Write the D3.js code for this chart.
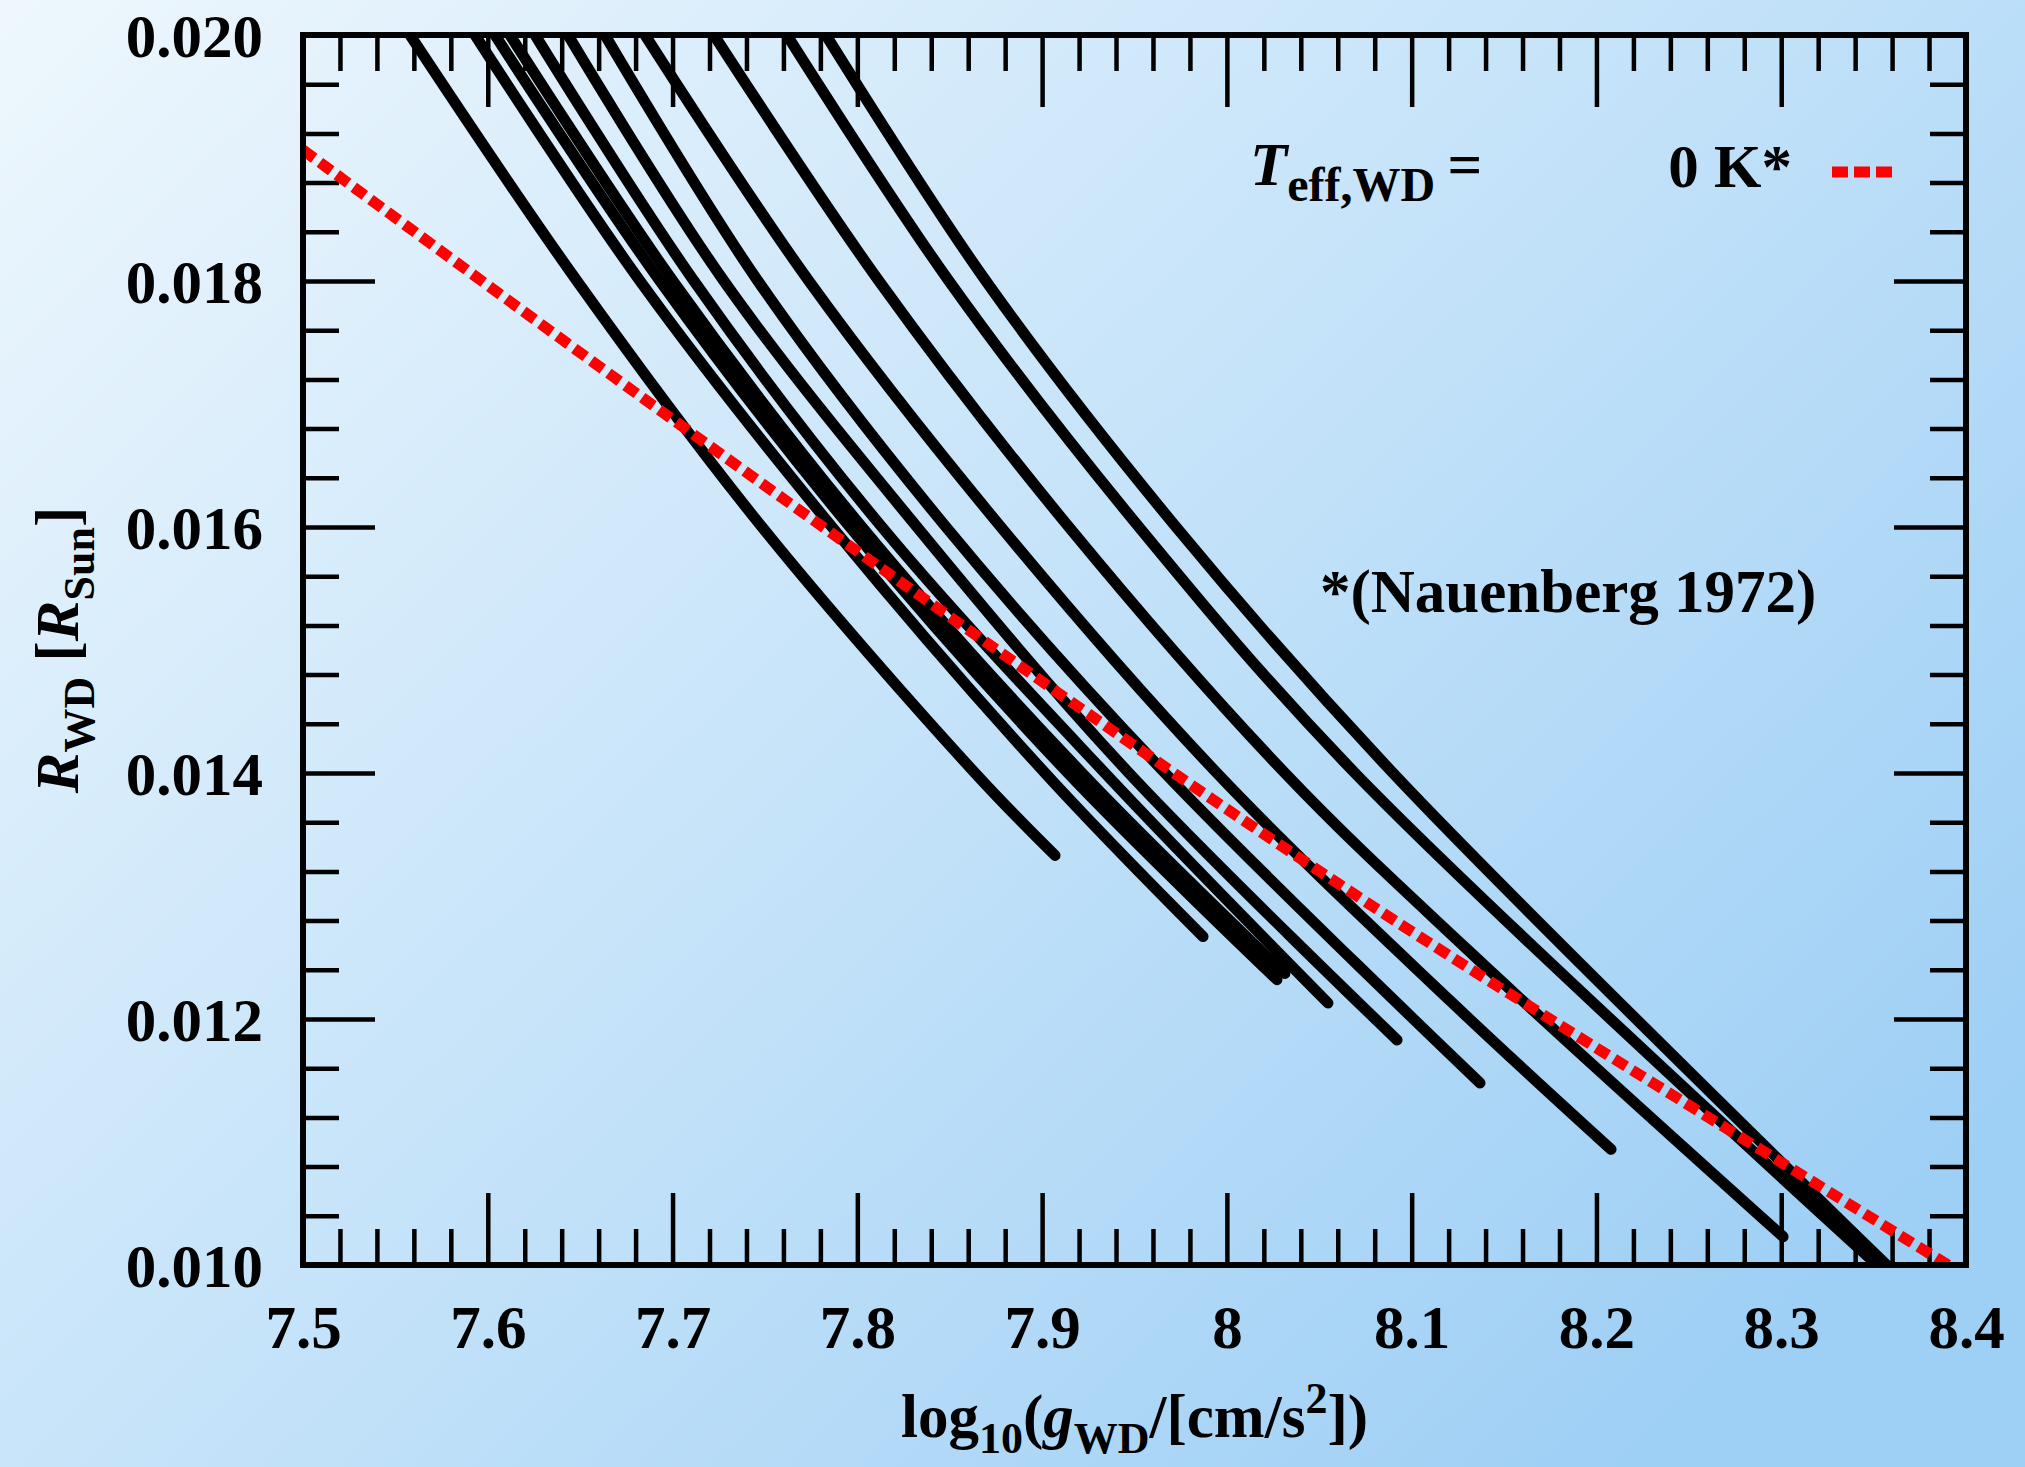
<!DOCTYPE html>
<html>
<head>
<meta charset="utf-8">
<script src="https://cdn.jsdelivr.net/npm/d3@7"></script>
<style>
html,body{margin:0;padding:0;background:#c6e3f9;}
body{width:2025px;height:1467px;overflow:hidden;}
svg{display:block;font-family:"Liberation Serif","Times New Roman",serif;font-weight:bold;}
</style>
</head>
<body>
<svg id="chart" width="2025" height="1467"></svg>
<script>
// ---------------- data ----------------
const xTickValues = [7.5, 7.6, 7.7, 7.8, 7.9, 8.0, 8.1, 8.2, 8.3, 8.4];
const xTickLabels = ["7.5", "7.6", "7.7", "7.8", "7.9", "8", "8.1", "8.2", "8.3", "8.4"];
const yTickValues = [0.010, 0.012, 0.014, 0.016, 0.018, 0.020];
const yTickLabels = ["0.010", "0.012", "0.014", "0.016", "0.018", "0.020"];

// black tracks: [log g, R_WD]
const track1  = [[7.5579,0.020],[7.6483,0.018],[7.7484,0.016],[7.8637,0.014],[7.9070,0.01333]];
const track2  = [[7.5931,0.020],[7.6824,0.018],[7.7863,0.016],[7.9016,0.014],[7.9871,0.01267]];
const track3  = [[7.6039,0.020],[7.6932,0.018],[7.7960,0.016],[7.9140,0.014],[8.0271,0.01232]];
const track4  = [[7.6120,0.020],[7.7002,0.018],[7.8025,0.016],[7.9216,0.014],[8.0314,0.01237]];
const track5  = [[7.6256,0.020],[7.7116,0.018],[7.8133,0.016],[7.9340,0.014],[8.0547,0.01213]];
const track6  = [[7.6434,0.020],[7.7278,0.018],[7.8323,0.016],[7.9470,0.014],[8.0921,0.01183]];
const track7  = [[7.6634,0.020],[7.7462,0.018],[7.8480,0.016],[7.9665,0.014],[8.1370,0.01148]];
const track8  = [[7.6851,0.020],[7.7738,0.018],[7.8777,0.016],[7.9946,0.014],[8.1207,0.01215],[8.2079,0.01094]];
const track9  = [[7.7224,0.020],[7.8117,0.018],[7.9145,0.016],[8.0314,0.014],[8.1305,0.01256],[8.3010,0.01023]];
const track10 = [[7.7619,0.020],[7.8496,0.018],[7.9524,0.016],[8.0693,0.014],[8.3520,0.010]];
const track11 = [[7.7830,0.020],[7.8696,0.018],[7.9725,0.016],[8.0899,0.014],[8.3570,0.010]];
const blackTracks = [track1, track2, track3, track4, track5, track6, track7, track8, track9, track10, track11];

// 0 K relation (Nauenberg 1972), red dashed
const nauenberg = [[7.5,0.019065],[7.6824,0.017065],[7.8756,0.015000],[8.0087,0.013618],[8.1207,0.012512],[8.3903,0.010]];

// ---------------- layout ----------------
const W = 2025, H = 1467;
const L = 303, R = 1966, T = 35, B = 1265;
const FONT = 61;
const SUB = 44;

const svg = d3.select("#chart");
const defs = svg.append("defs");
const grad = defs.append("linearGradient").attr("id","bg")
  .attr("x1","0").attr("y1","0").attr("x2","1").attr("y2","0.75");
grad.append("stop").attr("offset","0%").attr("stop-color","#eef7fd");
grad.append("stop").attr("offset","55%").attr("stop-color","#c3e2f9");
grad.append("stop").attr("offset","100%").attr("stop-color","#9ecff5");
svg.append("rect").attr("width",W).attr("height",H).attr("fill","url(#bg)");

defs.append("clipPath").attr("id","plotclip")
  .append("rect").attr("x",L).attr("y",T).attr("width",R-L).attr("height",B-T);

const x = d3.scaleLinear().domain([7.5, 8.4]).range([L, R]);
const y = d3.scaleLinear().domain([0.010, 0.020]).range([B, T]);

const xMinor = d3.range(0, 46).map(i => 7.5 + i*0.02).filter(v => !xTickValues.some(t => Math.abs(t-v) < 1e-6));
const yMinor = d3.range(0, 26).map(i => 0.010 + i*0.0004).filter(v => !yTickValues.some(t => Math.abs(t-v) < 1e-9));

const MAJ = 72, MIN = 36, TW = 4.5;

function styleAxis(g){
  g.select(".domain").remove();
  g.selectAll(".tick line").attr("stroke","#000").attr("stroke-width",TW);
  g.selectAll(".tick text").attr("fill","#000").attr("font-size",FONT)
    .attr("font-family",'"Liberation Serif","Times New Roman",serif').attr("font-weight","bold");
}

// bottom major with labels
svg.append("g").attr("transform",`translate(0,${B})`)
  .call(d3.axisBottom(x).tickValues(xTickValues).tickSize(-MAJ).tickPadding(40)
    .tickFormat((d,i) => xTickLabels[i]))
  .call(styleAxis);
svg.append("g").attr("transform",`translate(0,${B})`)
  .call(d3.axisBottom(x).tickValues(xMinor).tickSize(-MIN).tickFormat(""))
  .call(styleAxis);
// top
svg.append("g").attr("transform",`translate(0,${T})`)
  .call(d3.axisTop(x).tickValues(xTickValues).tickSize(-MAJ).tickFormat(""))
  .call(styleAxis);
svg.append("g").attr("transform",`translate(0,${T})`)
  .call(d3.axisTop(x).tickValues(xMinor).tickSize(-MIN).tickFormat(""))
  .call(styleAxis);
// left
svg.append("g").attr("transform",`translate(${L},0)`)
  .call(d3.axisLeft(y).tickValues(yTickValues).tickSize(-MAJ).tickPadding(40)
    .tickFormat((d,i) => yTickLabels[i]))
  .call(styleAxis)
  .call(g => g.selectAll(".tick text").attr("dy","0.36em"));
svg.append("g").attr("transform",`translate(${L},0)`)
  .call(d3.axisLeft(y).tickValues(yMinor).tickSize(-MIN).tickFormat(""))
  .call(styleAxis);
// right
svg.append("g").attr("transform",`translate(${R},0)`)
  .call(d3.axisRight(y).tickValues(yTickValues).tickSize(-MAJ).tickFormat(""))
  .call(styleAxis);
svg.append("g").attr("transform",`translate(${R},0)`)
  .call(d3.axisRight(y).tickValues(yMinor).tickSize(-MIN).tickFormat(""))
  .call(styleAxis);

// curves
const line = d3.line().x(d => x(d[0])).y(d => y(d[1])).curve(d3.curveCatmullRom.alpha(0.5));
const plot = svg.append("g").attr("clip-path","url(#plotclip)");
plot.selectAll("path.wd").data(blackTracks).join("path").attr("class","wd")
  .attr("d", line).attr("fill","none").attr("stroke","#000")
  .attr("stroke-width",11).attr("stroke-linecap","round").attr("stroke-linejoin","round");
plot.append("path").datum(nauenberg).attr("d", line).attr("fill","none")
  .attr("stroke","#ff0000").attr("stroke-width",11).attr("stroke-dasharray","14,7");

// frame
svg.append("rect").attr("x",L).attr("y",T).attr("width",R-L).attr("height",B-T)
  .attr("fill","none").attr("stroke","#000").attr("stroke-width",6);

// x title
const xt = svg.append("text").attr("x",(L+R)/2).attr("y",1437).attr("text-anchor","middle")
  .attr("font-size",FONT).attr("fill","#000");
xt.append("tspan").text("log");
xt.append("tspan").attr("font-size",SUB).attr("dy",16).text("10");
xt.append("tspan").attr("dy",-16).text("(");
xt.append("tspan").attr("font-style","italic").text("g");
xt.append("tspan").attr("font-size",SUB).attr("dy",16).text("WD");
xt.append("tspan").attr("dy",-16).text("/[cm/s");
xt.append("tspan").attr("font-size",SUB).attr("dy",-24).text("2");
xt.append("tspan").attr("dy",24).text("])");

// y title
const yt = svg.append("text").attr("transform",`translate(78,${(T+B)/2}) rotate(-90)`)
  .attr("text-anchor","middle").attr("font-size",FONT).attr("fill","#000");
yt.append("tspan").attr("font-style","italic").text("R");
yt.append("tspan").attr("font-size",SUB).attr("dy",16).text("WD");
yt.append("tspan").attr("dy",-16).text(" [");
yt.append("tspan").attr("font-style","italic").text("R");
yt.append("tspan").attr("font-size",SUB).attr("dy",16).text("Sun");
yt.append("tspan").attr("dy",-16).text("]");

// legend
const lt = svg.append("text").attr("x",1250).attr("y",185).attr("font-size",FONT).attr("fill","#000");
lt.append("tspan").attr("font-style","italic").text("T");
lt.append("tspan").attr("font-size",48).attr("dy",16).text("eff,WD");
lt.append("tspan").attr("dy",-16).text("\u2009=");
svg.append("text").attr("x",1792).attr("y",187).attr("text-anchor","end")
  .attr("font-size",FONT).attr("fill","#000").text("0 K*");
svg.append("line").attr("x1",1832).attr("x2",1896).attr("y1",172).attr("y2",172)
  .attr("stroke","#ff0000").attr("stroke-width",11).attr("stroke-dasharray","16,6");

svg.append("text").attr("x",1320).attr("y",612).attr("font-size",FONT).attr("fill","#000")
  .text("*(Nauenberg 1972)");
</script>
</body>
</html>
